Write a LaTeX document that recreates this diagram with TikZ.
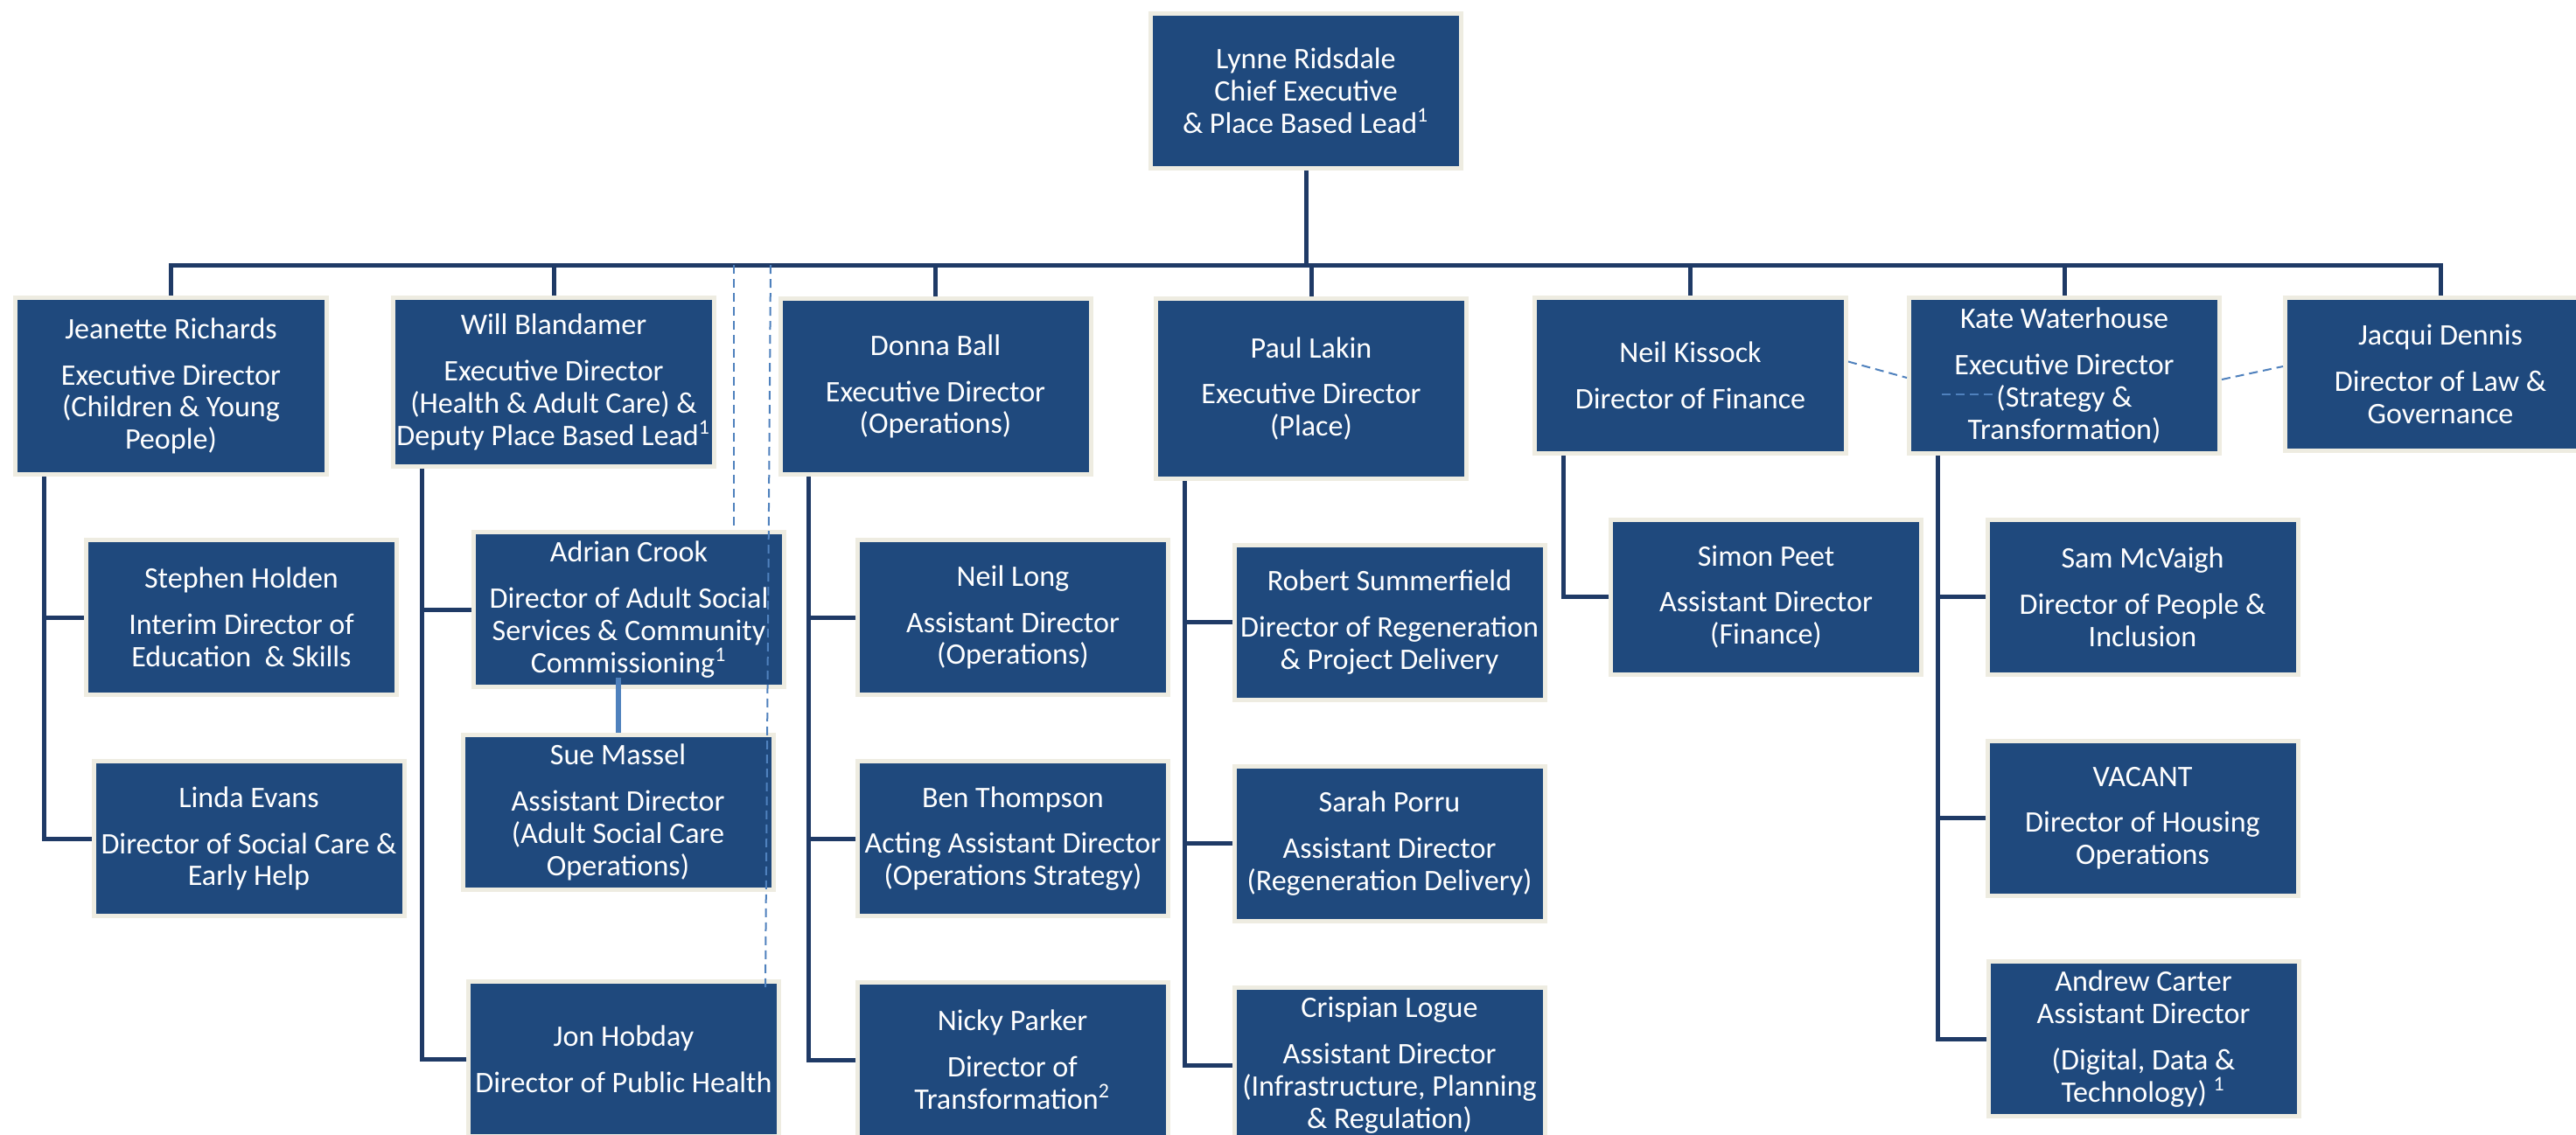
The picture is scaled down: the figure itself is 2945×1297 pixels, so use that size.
\documentclass[tikz,border=0pt]{standalone}
\usepackage{fontspec}
\setmainfont{Carlito}
\usetikzlibrary{backgrounds}
\definecolor{boxfill}{HTML}{1F497D}
\definecolor{boxedge}{HTML}{EEECE1}
\definecolor{linenavy}{HTML}{1F3A66}
\definecolor{dashblue}{HTML}{4F81BD}
\tikzset{
  post/.style={rectangle, draw=boxedge, line width=0.5mm, fill=boxfill, text=white, align=center,
    inner sep=1pt, minimum width=35.5mm, minimum height=17.7mm, font=\fontsize{9.7}{10.5}\selectfont},
  link/.style={draw=linenavy, line width=0.5mm},
  sublink/.style={draw=dashblue, line width=0.6mm},
  dotlink/.style={draw=dashblue, line width=0.2mm, dash pattern=on 1mm off 0.6mm}
}
\begin{document}
\begin{tikzpicture}[x=0.1mm,y=-0.1mm]
        \useasboundingbox (0,0) rectangle (2945,1297);

        \node[post] (ceo) at (1493,104) {Lynne Ridsdale\\Chief Executive\\\& Place Based Lead\textsuperscript{1}};

        \node[post, minimum width=35.6mm, minimum height=20.2mm] (jeanette) at (195.5,441.5) {Jeanette Richards\\[4.5pt]Executive Director\\(Children \& Young\\People)};
        \node[post, minimum width=36.5mm, minimum height=19.3mm] (will) at (633,437) {Will Blandamer\\[4.5pt]Executive Director\\(Health \& Adult Care) \&\\Deputy Place Based Lead\textsuperscript{1}};
        \node[post, minimum height=20.1mm] (donna) at (1069.5,442) {Donna Ball\\[4.5pt]Executive Director\\(Operations)};
        \node[post, minimum height=20.6mm] (paul) at (1499,444.5) {Paul Lakin\\[4.5pt]Executive Director\\(Place)};
        \node[post, minimum width=35.6mm, minimum height=17.8mm] (neilk) at (1932.5,429.5) {Neil Kissock\\[4.5pt]Director of Finance};
        \node[post, minimum height=17.8mm] (kate) at (2360,429.5) {Kate Waterhouse\\[4.5pt]Executive Director\\(Strategy \&\\Transformation)};
        \node[post, minimum height=17.5mm] (jacqui) at (2790,428) {Jacqui Dennis\\[4.5pt]Director of Law \&\\Governance};

        \node[post] (stephen) at (276,706) {Stephen Holden\\[4.5pt]Interim Director of\\Education \ \& Skills};
        \node[post] (linda) at (284.5,959) {Linda Evans\\[4.5pt]Director of Social Care \&\\Early Help};
        \node[post] (adrian) at (719,697) {Adrian Crook\\[4.5pt]Director of Adult Social\\Services \& Community\\Commissioning\textsuperscript{1}};
        \node[post] (sue) at (706.5,929) {Sue Massel\\[4.5pt]Assistant Director\\(Adult Social Care\\Operations)};
        \node[post] (jon) at (713,1211) {Jon Hobday\\[4.5pt]Director of Public Health};
        \node[post] (neill) at (1158,706) {Neil Long\\[4.5pt]Assistant Director\\(Operations)};
        \node[post] (ben) at (1158,959) {Ben Thompson\\[4.5pt]Acting Assistant Director\\(Operations Strategy)};
        \node[post] (nicky) at (1157.5,1212) {Nicky Parker\\[4.5pt]Director of\\Transformation\textsuperscript{2}};
        \node[post] (robert) at (1588.5,711.5) {Robert Summerfield\\[4.5pt]Director of Regeneration\\\& Project Delivery};
        \node[post] (sarah) at (1588.5,964.5) {Sarah Porru\\[4.5pt]Assistant Director\\(Regeneration Delivery)};
        \node[post] (crispian) at (1588.5,1218) {Crispian Logue\\[4.5pt]Assistant Director\\(Infrastructure, Planning\\\& Regulation)};
        \node[post] (simon) at (2019,682.5) {Simon Peet\\[4.5pt]Assistant Director\\(Finance)};
        \node[post] (sam) at (2449.5,682.5) {Sam McVaigh\\[4.5pt]Director of People \&\\Inclusion};
        \node[post] (vacant) at (2449.5,935.5) {VACANT\\[4.5pt]Director of Housing\\Operations};
        \node[post] (andrew) at (2450.5,1188) {Andrew Carter\\Assistant Director\\[4.5pt](Digital, Data \&\\Technology) \textsuperscript{1}};

        \coordinate (bar) at (1493,303);
        \coordinate (dotA) at (839,303);
        \coordinate (dotB) at (881,303);

        \begin{scope}[on background layer]
        \fill[white] (0,0) rectangle (2945,1297);
        \draw[link] (ceo.south) -- (ceo.south |- bar) -| (jeanette.north);
        \draw[link] (ceo.south) -- (ceo.south |- bar) -| (will.north);
        \draw[link] (ceo.south) -- (ceo.south |- bar) -| (donna.north);
        \draw[link] (ceo.south) -- (ceo.south |- bar) -| (paul.north);
        \draw[link] (ceo.south) -- (ceo.south |- bar) -| (neilk.north);
        \draw[link] (ceo.south) -- (ceo.south |- bar) -| (kate.north);
        \draw[link] (ceo.south) -- (ceo.south |- bar) -| (jacqui.north);

        \draw[link] ([xshift=3.5mm]jeanette.south west) |- (stephen.west);
        \draw[link] ([xshift=3.5mm]jeanette.south west) |- (linda.west);
        \draw[link] ([xshift=3.5mm]will.south west) |- (adrian.west);
        \draw[link] ([xshift=3.5mm]will.south west) |- (jon.west);
        \draw[link] ([xshift=3.5mm]donna.south west) |- (neill.west);
        \draw[link] ([xshift=3.5mm]donna.south west) |- (ben.west);
        \draw[link] ([xshift=3.5mm]donna.south west) |- (nicky.west);
        \draw[link] ([xshift=3.5mm]paul.south west) |- (robert.west);
        \draw[link] ([xshift=3.5mm]paul.south west) |- (sarah.west);
        \draw[link] ([xshift=3.5mm]paul.south west) |- (crispian.west);
        \draw[link] ([xshift=3.5mm]neilk.south west) |- (simon.west);
        \draw[link] ([xshift=3.5mm]kate.south west) |- (sam.west);
        \draw[link] ([xshift=3.5mm]kate.south west) |- (vacant.west);
        \draw[link] ([xshift=3.5mm]kate.south west) |- (andrew.west);
        \end{scope}

        \draw[sublink] ([yshift=1.35mm]sue.north |- adrian.south) -- (sue.north);

        \draw[dotlink] (dotA) -- (dotA |- adrian.north);
        \draw[dotlink] (dotB) -- ([xshift=-0.6mm,yshift=-1mm]dotB |- jon.north);
        \draw[dotlink] ([yshift=1.6mm]neilk.east) -- ([yshift=-0.25mm]kate.west);
        \draw[dotlink] ([xshift=-14mm,yshift=-2.15mm]kate.center) -- ([xshift=-7.7mm,yshift=-2.15mm]kate.center);
        \draw[dotlink] ([yshift=-0.45mm]kate.east) -- ([yshift=0.9mm]jacqui.west);

    \end{tikzpicture}
\end{document}
